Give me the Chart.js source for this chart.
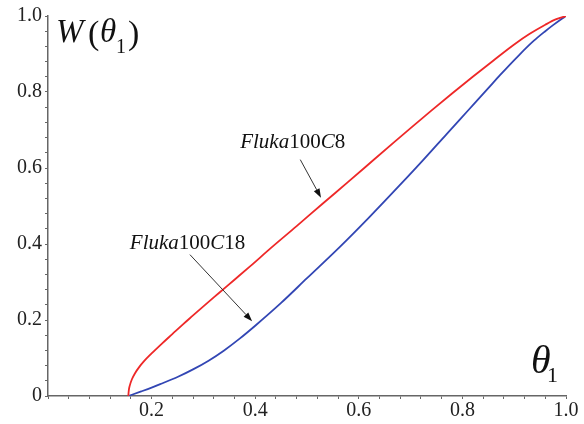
<!DOCTYPE html>
<html>
<head>
<meta charset="utf-8">
<script src="https://cdn.jsdelivr.net/npm/chart.js@4.4.1/dist/chart.umd.min.js"></script>
<style>
  html, body { margin: 0; padding: 0; background: #fff; }
  #wrap { width: 584px; height: 424px; position: relative; }
</style>
</head>
<body>
<div id="wrap"><canvas id="c" width="584" height="424"></canvas></div>
<script>
// ---- data ----
const redX  = [0.155, 0.156, 0.158, 0.162, 0.168, 0.176, 0.185, 0.2, 0.22, 0.24, 0.26, 0.28, 0.3, 0.33, 0.36, 0.39, 0.43, 0.48, 0.53, 0.58, 0.63, 0.67, 0.7, 0.74, 0.78, 0.82, 0.86, 0.9, 0.93, 0.96, 0.98, 1.0];
const redY  = [0, 0.015, 0.028, 0.044, 0.06, 0.076, 0.091, 0.112, 0.138, 0.163, 0.188, 0.212, 0.236, 0.271, 0.306, 0.341, 0.389, 0.447, 0.506, 0.564, 0.623, 0.67, 0.705, 0.751, 0.796, 0.84, 0.883, 0.925, 0.953, 0.977, 0.991, 1.0];
const blueX = [0.155, 0.18, 0.2, 0.22, 0.25, 0.28, 0.31, 0.34, 0.37, 0.4, 0.45, 0.5, 0.564, 0.62, 0.68, 0.725, 0.77, 0.81, 0.85, 0.873, 0.91, 0.938, 0.96, 0.975, 0.99, 1.0];
const blueY = [0, 0.012, 0.022, 0.033, 0.05, 0.07, 0.093, 0.12, 0.151, 0.185, 0.245, 0.31, 0.393, 0.47, 0.556, 0.622, 0.69, 0.75, 0.81, 0.845, 0.898, 0.935, 0.96, 0.976, 0.991, 1.0];
const seriesNames = ['Fluka100C8', 'Fluka100C18'];
const xTickLabels = ['0.2', '0.4', '0.6', '0.8', '1.0'];
const yTickLabels = ['0', '0.2', '0.4', '0.6', '0.8', '1.0'];

const toPts = (xs, ys) => xs.map((x, i) => ({ x: x, y: ys[i] }));
const isMajor = v => Math.abs(v * 5 - Math.round(v * 5)) < 1e-6;
const SERIF = '"Liberation Serif", "Times New Roman", serif';

// annotation placement (data coordinates)
const notes = [
  { parts: [['Fluka', 'italic'], ['100', 'normal'], ['C', 'italic'], ['8', 'normal']],
    tx: 0.371, ty: 0.653, ax1: 0.487, ay1: 0.622, ax2: 0.527, ay2: 0.522 },
  { parts: [['Fluka', 'italic'], ['100', 'normal'], ['C', 'italic'], ['18', 'normal']],
    tx: 0.158, ty: 0.387, ax1: 0.274, ay1: 0.372, ax2: 0.394, ay2: 0.197 }
];

function drawArrow(ctx, x1, y1, x2, y2) {
  const ang = Math.atan2(y2 - y1, x2 - x1);
  const hl = 9, hw = 3.2;
  ctx.save();
  ctx.strokeStyle = '#333';
  ctx.fillStyle = '#111';
  ctx.lineWidth = 1;
  ctx.beginPath();
  ctx.moveTo(x1, y1);
  ctx.lineTo(x2 - hl * Math.cos(ang), y2 - hl * Math.sin(ang));
  ctx.stroke();
  ctx.beginPath();
  ctx.moveTo(x2, y2);
  ctx.lineTo(x2 - hl * Math.cos(ang) + hw * Math.sin(ang), y2 - hl * Math.sin(ang) - hw * Math.cos(ang));
  ctx.lineTo(x2 - hl * Math.cos(ang) - hw * Math.sin(ang), y2 - hl * Math.sin(ang) + hw * Math.cos(ang));
  ctx.closePath();
  ctx.fill();
  ctx.restore();
}

function drawParts(ctx, parts, x, y, size) {
  let cx = x;
  parts.forEach(([txt, style]) => {
    ctx.font = (style === 'italic' ? 'italic ' : '') + size + 'px ' + SERIF;
    ctx.fillText(txt, cx, y);
    cx += ctx.measureText(txt).width;
  });
}

const overlay = {
  id: 'overlay',
  afterDraw(chart) {
    const ctx = chart.ctx;
    const xs = chart.scales.x, ys = chart.scales.y;
    ctx.save();
    ctx.fillStyle = '#111';
    ctx.textBaseline = 'alphabetic';
    ctx.textAlign = 'left';
    notes.forEach(n => {
      drawParts(ctx, n.parts, xs.getPixelForValue(n.tx), ys.getPixelForValue(n.ty), 21);
      drawArrow(ctx, xs.getPixelForValue(n.ax1), ys.getPixelForValue(n.ay1),
                     xs.getPixelForValue(n.ax2), ys.getPixelForValue(n.ay2));
    });
    // y axis title W(θ1)
    ctx.font = 'italic 33px ' + SERIF;
    ctx.fillText('W', 56, 42);
    ctx.font = '34px ' + SERIF;
    ctx.fillText('(', 88, 44);
    ctx.font = 'italic 33px ' + SERIF;
    ctx.fillText('\u03B8', 100, 42);
    ctx.font = '20px ' + SERIF;
    ctx.fillText('1', 116, 53);
    ctx.font = '34px ' + SERIF;
    ctx.fillText(')', 128, 44);
    // x axis title θ1
    ctx.font = 'italic 40px ' + SERIF;
    ctx.fillText('\u03B8', 531, 373);
    ctx.font = '22px ' + SERIF;
    ctx.fillText('1', 547, 382);
    ctx.restore();
  }
};

new Chart(document.getElementById('c'), {
  type: 'scatter',
  data: {
    datasets: [
      { label: seriesNames[0], data: toPts(redX, redY), showLine: true, borderColor: 'rgb(238,40,40)',
        borderWidth: 1.8, pointRadius: 0, cubicInterpolationMode: 'monotone', fill: false },
      { label: seriesNames[1], data: toPts(blueX, blueY), showLine: true, borderColor: 'rgb(50,70,180)',
        borderWidth: 1.8, pointRadius: 0, cubicInterpolationMode: 'monotone', fill: false }
    ]
  },
  options: {
    responsive: false,
    animation: false,
    layout: { padding: { top: 16, right: 18, left: 0, bottom: 0 } },
    plugins: { legend: { display: false }, tooltip: { enabled: false } },
    scales: {
      x: {
        type: 'linear', min: 0, max: 1,
        afterFit: s => { s.height = 28; },
        grid: { drawOnChartArea: false, drawTicks: true, tickLength: 3, tickColor: '#666' },
        border: { display: true, color: '#666', width: 1.5 },
        ticks: {
          stepSize: 0.04, autoSkip: false, maxRotation: 0, padding: 0,
          color: '#222', font: { family: SERIF, size: 20 },
          callback: v => (isMajor(v) && v > 1e-6) ? xTickLabels[Math.round(v * 5) - 1] : ''
        }
      },
      y: {
        type: 'linear', min: 0, max: 1,
        afterFit: s => { s.width = 48; },
        grid: { drawOnChartArea: false, drawTicks: true, tickLength: 3, tickColor: '#666' },
        border: { display: true, color: '#666', width: 1.5 },
        ticks: {
          stepSize: 0.04, autoSkip: false, padding: 3,
          color: '#222', font: { family: SERIF, size: 20 },
          callback: v => isMajor(v) ? yTickLabels[Math.round(v * 5)] : ''
        }
      }
    }
  },
  plugins: [overlay]
});
</script>
</body>
</html>
